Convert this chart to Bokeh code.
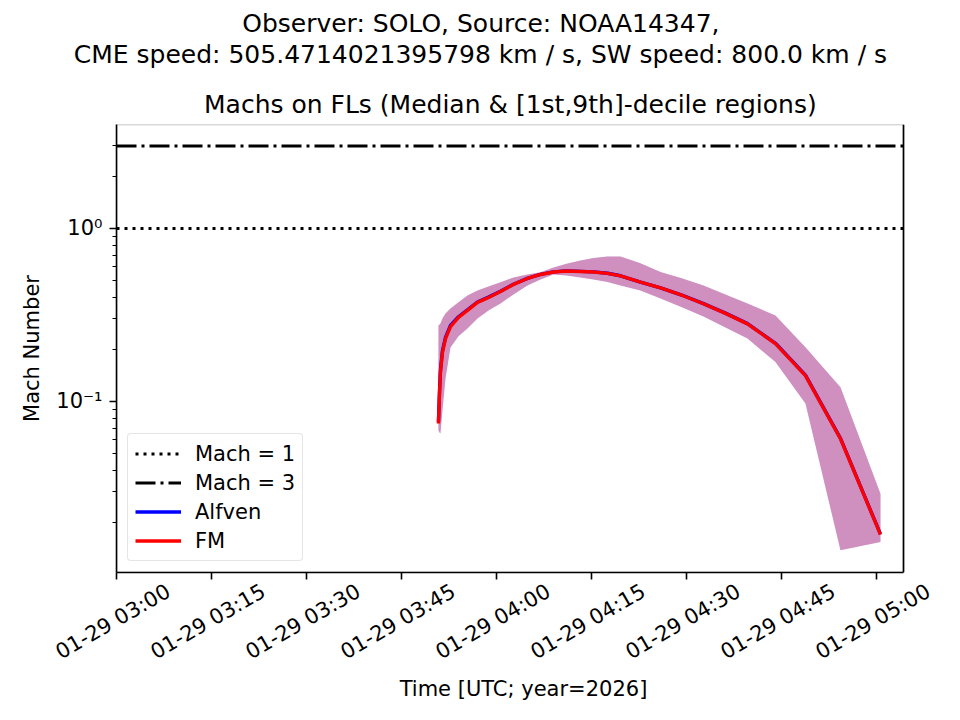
import math
import pandas as pd
from bokeh.plotting import figure
from bokeh.models import (Range1d, FixedTicker, CustomJSTickFormatter, DatetimeAxis,
                          Legend, LegendItem, Title, ColumnDataSource, BoxAnnotation, Span)
from bokeh.embed import file_html
from bokeh.resources import INLINE

FONT = "DejaVu Sans"

obs_title = "Observer: SOLO, Source: NOAA14347,"
cme_title = "CME speed: 505.4714021395798 km / s, SW speed: 800.0 km / s"
ax_title = "Machs on FLs (Median & [1st,9th]-decile regions)"
x_label = "Time [UTC; year=2026]"
y_label = "Mach Number"

times = ["2026-01-29 03:50:50", "2026-01-29 03:51:00", "2026-01-29 03:51:09", "2026-01-29 03:51:28",
         "2026-01-29 03:51:57", "2026-01-29 03:52:44", "2026-01-29 03:54:00", "2026-01-29 03:55:25",
         "2026-01-29 03:57:00", "2026-01-29 03:58:44", "2026-01-29 04:00:38", "2026-01-29 04:02:41",
         "2026-01-29 04:04:53", "2026-01-29 04:06:57", "2026-01-29 04:09:00", "2026-01-29 04:11:03",
         "2026-01-29 04:13:16", "2026-01-29 04:15:19", "2026-01-29 04:17:32", "2026-01-29 04:19:35",
         "2026-01-29 04:22:44", "2026-01-29 04:25:54", "2026-01-29 04:29:22", "2026-01-29 04:32:41",
         "2026-01-29 04:36:09", "2026-01-29 04:39:38", "2026-01-29 04:44:03", "2026-01-29 04:48:47",
         "2026-01-29 04:54:19", "2026-01-29 05:00:38"]

fm_median = [0.0746, 0.111, 0.147, 0.192, 0.231, 0.271, 0.306, 0.336, 0.374, 0.399,
             0.432, 0.475, 0.514, 0.542, 0.560, 0.568, 0.564, 0.560, 0.550, 0.532,
             0.489, 0.453, 0.410, 0.367, 0.323, 0.281, 0.216, 0.141, 0.0609, 0.0170]

alfven_median = [0.0760, 0.114, 0.151, 0.196, 0.235, 0.275, 0.309, 0.339, 0.376, 0.401,
                 0.434, 0.476, 0.515, 0.543, 0.561, 0.569, 0.565, 0.561, 0.551, 0.533,
                 0.490, 0.454, 0.411, 0.368, 0.324, 0.282, 0.217, 0.142, 0.0612, 0.0171]

decile_1 = [0.0680, 0.0662, 0.0653, 0.0887, 0.136, 0.205, 0.238, 0.264, 0.302, 0.336,
            0.369, 0.416, 0.468, 0.507, 0.542, 0.535, 0.521, 0.507, 0.491, 0.468,
            0.438, 0.394, 0.349, 0.310, 0.268, 0.231, 0.169, 0.0974, 0.0138, 0.0154]

decile_9 = [0.275, 0.279, 0.282, 0.302, 0.323, 0.345, 0.374, 0.410, 0.438, 0.462,
            0.489, 0.521, 0.542, 0.559, 0.595, 0.625, 0.653, 0.675, 0.689, 0.689,
            0.630, 0.560, 0.514, 0.468, 0.416, 0.369, 0.314, 0.206, 0.121, 0.0293]

mach_levels = [1.0, 3.0]
mach_labels = ["Mach = 1", "Mach = 3"]
x_limits = ["2026-01-29 03:00:00", "2026-01-29 05:04:16"]
y_limits = [0.01027, 3.99]
x_tick_times = ["2026-01-29 03:00", "2026-01-29 03:15", "2026-01-29 03:30", "2026-01-29 03:45",
                "2026-01-29 04:00", "2026-01-29 04:15", "2026-01-29 04:30", "2026-01-29 04:45",
                "2026-01-29 05:00"]
y_major_ticks = [0.1, 1.0]
y_minor_ticks = [0.02, 0.03, 0.04, 0.05, 0.06, 0.07, 0.08, 0.09,
                 0.2, 0.3, 0.4, 0.5, 0.6, 0.7, 0.8, 0.9, 2.0, 3.0]

AX_W, FRAME_H = 787, 448      # visible axes box
FRAME_W = 814                 # canvas frame, a little wider so the last rotated label fits
LABEL_SHIFT_PX = 52           # Bokeh anchors rotated labels at their end; shift so they centre on ticks

t = pd.to_datetime(pd.Series(times))
src = ColumnDataSource(dict(t=t, fm=fm_median, alf=alfven_median, lo=decile_1, hi=decile_9))
xlim = pd.to_datetime(pd.Series(x_limits))
tick_ms = [pd.Timestamp(s).value / 1e6 for s in x_tick_times]
x0_ms = xlim[0].value / 1e6
x1_ms = xlim[1].value / 1e6
ms_per_px = (x1_ms - x0_ms) / AX_W
xend_ms = x0_ms + ms_per_px * FRAME_W
shift_ms = LABEL_SHIFT_PX * ms_per_px

p = figure(frame_width=FRAME_W, frame_height=FRAME_H,
           x_axis_type="datetime", y_axis_type="log",
           x_range=Range1d(start=x0_ms, end=xend_ms),
           y_range=Range1d(start=y_limits[0], end=y_limits[1]),
           output_backend="svg", toolbar_location=None, title=None,
           min_border_left=116, min_border_right=960 - 116 - FRAME_W,
           min_border_top=124, min_border_bottom=148)
p.extra_x_ranges = {"labels": Range1d(start=x0_ms - shift_ms, end=xend_ms - shift_ms)}

p.background_fill_color = "white"
p.border_fill_color = "white"
p.outline_line_color = None
p.xgrid.visible = False
p.ygrid.visible = False

# axes box (top / right / bottom / left spines)
p.add_layout(BoxAnnotation(left=x0_ms, right=x1_ms, bottom=y_limits[0], top=y_limits[1],
                           fill_color=None, fill_alpha=0, line_color="black", line_width=1.6))
p.add_layout(Span(location=x1_ms, dimension="height", line_color="black", line_width=1.6))

# titles (left aligned with offsets so they centre over the visible axes box)
for txt, sd, off in [(ax_title, 11, 87.5), (cme_title, 27, -42.7), (obs_title, -27, 125.7)]:
    p.add_layout(Title(text=txt, text_font=FONT, text_font_size="25px", text_font_style="normal",
                       text_color="black", align="left", offset=off, standoff=sd), "above")

# bands
p.varea(x="t", y1="lo", y2="hi", source=src, fill_color="blue", fill_alpha=0.25)
p.varea(x="t", y1="lo", y2="hi", source=src, fill_color="red", fill_alpha=0.25)

# reference lines
r1 = p.line(x=list(xlim), y=[mach_levels[0]] * 2, line_color="black", line_width=3.1, line_dash="3 5")
r3 = p.line(x=list(xlim), y=[mach_levels[1]] * 2, line_color="black", line_width=3.1,
            line_dash="20 5 3 5")

ra = p.line("t", "alf", source=src, line_color="blue", line_width=3.4)
rf = p.line("t", "fm", source=src, line_color="red", line_width=3.4)

legend = Legend(items=[LegendItem(label=mach_labels[0], renderers=[r1]),
                       LegendItem(label=mach_labels[1], renderers=[r3]),
                       LegendItem(label="Alfven", renderers=[ra]),
                       LegendItem(label="FM", renderers=[rf])],
                location="bottom_left")
legend.label_text_font = FONT
legend.label_text_font_size = "21px"
legend.label_text_color = "black"
legend.glyph_width = 46
legend.glyph_height = 25
legend.label_height = 25
legend.label_standoff = 14
legend.spacing = 4
legend.padding = 7
legend.margin = 11
legend.border_line_color = "#cccccc"
legend.border_line_width = 1.6
legend.background_fill_alpha = 0.8
try:
    legend.border_radius = 4
except Exception:
    pass
p.add_layout(legend)

# x axis 1: tick marks only, line limited to the axes box
xa = p.xaxis[0]
xa.bounds = (x0_ms, x1_ms)
xa.ticker = FixedTicker(ticks=tick_ms, minor_ticks=[])
xa.formatter = CustomJSTickFormatter(code="return '';")
xa.major_label_standoff = 0

# x axis 2: the rotated tick labels (same tick times, on a shifted range)
xl = DatetimeAxis(x_range_name="labels")
xl.ticker = FixedTicker(ticks=tick_ms, minor_ticks=[])
xl.formatter = CustomJSTickFormatter(code="""
const d = new Date(tick);
const z = (n) => String(n).padStart(2, "0");
return z(d.getUTCMonth() + 1) + "-" + z(d.getUTCDate()) + " " + z(d.getUTCHours()) + ":" + z(d.getUTCMinutes());
""")
xl.major_label_orientation = math.radians(30)
xl.major_label_standoff = 10
xl.axis_line_color = None
xl.major_tick_line_color = None
xl.minor_tick_line_color = None
xl.major_tick_out = 0
xl.major_tick_in = 0
xl.minor_tick_out = 0
xl.minor_tick_in = 0
xl.axis_label = x_label
xl.axis_label_standoff = 0
p.add_layout(xl, "below")

ya = p.yaxis[0]
ya.ticker = FixedTicker(ticks=y_major_ticks, minor_ticks=y_minor_ticks)
ya.formatter = CustomJSTickFormatter(code="""
const e = Math.round(Math.log10(tick));
const sup = {"-": "\u207b", "0": "\u2070", "1": "\u00b9", "2": "\u00b2", "3": "\u00b3"};
return "10" + String(e).split("").map(c => sup[c]).join("");
""")
ya.major_label_standoff = 7
ya.axis_label = y_label
ya.axis_label_standoff = 9

for ax in (xa, ya):
    ax.axis_line_color = "black"
    ax.axis_line_width = 1.6
    ax.major_tick_line_color = "black"
    ax.minor_tick_line_color = "black"
    ax.major_tick_line_width = 1.6
    ax.minor_tick_line_width = 1.2
    ax.major_tick_out = 7
    ax.major_tick_in = 0
    ax.minor_tick_out = 4
    ax.minor_tick_in = 0
for ax in (xa, xl, ya):
    ax.major_label_text_font = FONT
    ax.major_label_text_font_size = "21px"
    ax.major_label_text_color = "black"
    ax.axis_label_text_font = FONT
    ax.axis_label_text_font_size = "21px"
    ax.axis_label_text_font_style = "normal"
    ax.axis_label_text_color = "black"

open("out.html", "w").write(file_html(p, INLINE))
